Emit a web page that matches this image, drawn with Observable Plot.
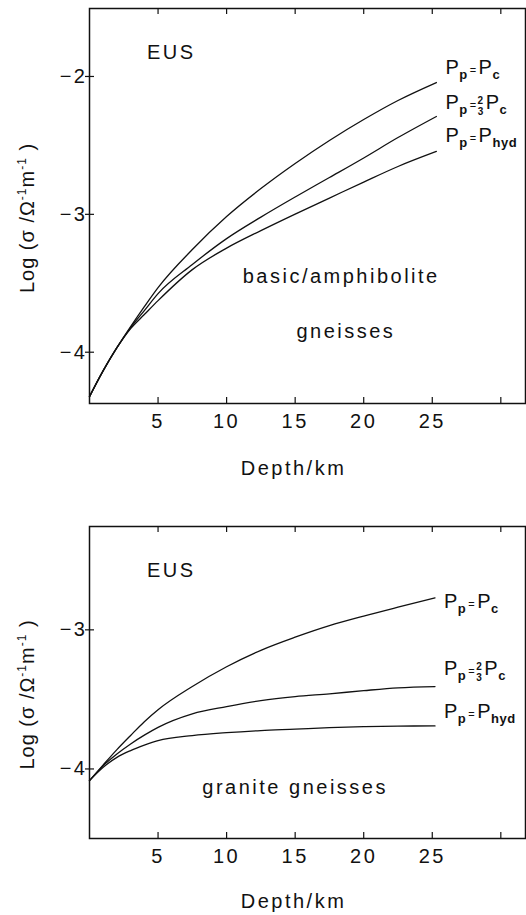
<!DOCTYPE html>
<html>
<head>
<meta charset="utf-8">
<script src="https://cdn.jsdelivr.net/npm/d3@7"></script>
<script src="https://cdn.jsdelivr.net/npm/@observablehq/plot@0.6"></script>
<style>
  html, body { margin: 0; padding: 0; background: #fff; }
  #chart { width: 526px; }
  #chart svg { display: block; }
</style>
</head>
<body>
<div id="chart"></div>
<script>
// ---------- data ----------
const xTickValues = [5, 10, 15, 20, 25, 30];
const xTickLabels = [5, 10, 15, 20, 25];
const basicYTicks = [-2, -3, -4];
const graniteYTicks = [-3, -4];

const seriesNames = ["Pp=Pc", "Pp=2/3Pc", "Pp=Phyd"];

// upper panel: basic/amphibolite gneisses
const depthBasic = [0, 1, 2, 3, 4, 5, 7.5, 10, 12.5, 15, 17.5, 20, 22.5, 25.3];
const basicPc    = [-4.322, -4.134, -3.967, -3.814, -3.669, -3.531, -3.255, -3.016, -2.813, -2.631, -2.464, -2.312, -2.174, -2.044];
const basic23    = [-4.322, -4.134, -3.967, -3.821, -3.698, -3.575, -3.364, -3.176, -3.020, -2.874, -2.733, -2.591, -2.443, -2.290];
const basicHyd   = [-4.322, -4.134, -3.967, -3.829, -3.727, -3.626, -3.401, -3.245, -3.118, -2.998, -2.882, -2.766, -2.653, -2.544];
const basicLabelY = [-1.935, -2.187, -2.428];

// lower panel: granite gneisses
const depthGranite = [0, 1, 2, 3, 4, 5, 7.5, 10, 12.5, 15, 17.5, 20, 22.5, 25.2];
const granitePc    = [-4.084, -3.971, -3.861, -3.759, -3.660, -3.574, -3.407, -3.265, -3.147, -3.053, -2.970, -2.901, -2.837, -2.770];
const granite23    = [-4.084, -3.976, -3.892, -3.820, -3.757, -3.701, -3.604, -3.552, -3.509, -3.480, -3.460, -3.437, -3.417, -3.408];
const graniteHyd   = [-4.084, -3.988, -3.917, -3.868, -3.829, -3.796, -3.760, -3.739, -3.724, -3.714, -3.703, -3.696, -3.692, -3.691];
const graniteLabelY = [-2.80, -3.28, -3.59];

// annotations
const basicNotes = ["EUS", "basic/amphibolite", "gneisses"];
const basicNoteX = [5.96, 18.36, 18.7];
const basicNoteY = [-1.826, -3.448, -3.852];
const graniteNotes = ["EUS", "granite gneisses"];
const graniteNoteX = [5.96, 15.0];
const graniteNoteY = [-2.573, -4.135];

const xLabel = "Depth/km";
const yLabel = "Log (σ /Ω-1m-1 )";

// ---------- rich text (sub/superscripts) ----------
const STY = {
  big: {size: 20, shift: 0},
  sub: {size: 13, shift: 5, weight: "bold"},
  eq:  {size: 11, shift: 0, dx: 2},
  num: {size: 10, shift: -5, weight: "bold", dx: 1},
  den: {size: 10, shift: 6, weight: "bold", dx: -6},
  big2:{size: 20, shift: 0, dx: 2},
  sup: {size: 12, shift: -8}
};
const RICH = {
  "Pp=Pc":    {ls: "0.5px", segs: [["P","big"],["p","sub"],["=","eq"],["P","big2"],["c","sub"]]},
  "Pp=2/3Pc": {ls: "0.5px", segs: [["P","big"],["p","sub"],["=","eq"],["2","num"],["3","den"],["P","big2"],["c","sub"]]},
  "Pp=Phyd":  {ls: "0.5px", segs: [["P","big"],["p","sub"],["=","eq"],["P","big2"],["hyd","sub"]]},
  [yLabel]:   {ls: "1px", segs: [["Log (σ /Ω","big"],["-1","sup"],["m","big"],["-1","sup"],[" )","big"]]}
};
function richify(svg) {
  svg.querySelectorAll("text").forEach(t => {
    const r = RICH[t.textContent];
    if (!r) return;
    t.textContent = "";
    t.style.letterSpacing = r.ls;
    let prev = 0;
    for (const [str, kind] of r.segs) {
      const st = STY[kind];
      const ts = document.createElementNS("http://www.w3.org/2000/svg", "tspan");
      ts.textContent = str;
      ts.setAttribute("font-size", st.size);
      if (st.weight) ts.setAttribute("font-weight", st.weight);
      const dy = st.shift - prev; prev = st.shift;
      if (dy) ts.setAttribute("dy", dy);
      if (st.dx) ts.setAttribute("dx", st.dx);
      t.appendChild(ts);
    }
  });
}

// ---------- panel ----------
const W = 526, ML = 89, MR = 1;
const INK = "#111";
function panel({height, marginTop, marginBottom, yDomain, yTicks, depth, values, labelY, notes, noteX, noteY, xLabelDy}) {
  const rows = values.flatMap((vals, k) => vals.map((v, i) => ({x: depth[i], y: v, name: seriesNames[k]})));
  const labels = seriesNames.map((n, k) => ({name: n, x: depth[depth.length - 1], y: labelY[k]}));
  const noteRows = notes.map((t, i) => ({t, x: noteX[i], y: noteY[i]}));
  const fh = height - marginTop - marginBottom;
  const fw = W - ML - MR;
  const svg = Plot.plot({
    width: W, height, marginLeft: ML, marginRight: MR, marginTop, marginBottom,
    style: {fontFamily: "'Liberation Sans', Arial, Helvetica, sans-serif", fontSize: "20px", color: INK, background: "#fff", letterSpacing: "2.5px"},
    x: {domain: [0, 31.8]},
    y: {domain: yDomain},
    marks: [
      Plot.frame({stroke: INK, strokeWidth: 1.5}),
      Plot.tickX(xTickValues, {x: d => d, insetTop: fh - 6, stroke: INK, strokeWidth: 1.2}),
      Plot.tickX(xTickValues, {x: d => d, insetBottom: fh - 6, stroke: INK, strokeWidth: 1.2}),
      Plot.tickY(yTicks, {y: d => d, insetRight: fw - 9, dx: -4, stroke: INK, strokeWidth: 1.2}),
      Plot.axisX(xTickLabels, {tickSize: 0, tickPadding: 10, label: null, fontSize: 20, tickFormat: d3.format("d")}),
      Plot.axisY(yTicks, {tickSize: 0, tickPadding: 2, label: null, fontSize: 20, tickFormat: d3.format("d")}),
      Plot.text([xLabel], {text: d => d, frameAnchor: "bottom", dy: xLabelDy, dx: -14, lineAnchor: "middle", fontSize: 20, fill: INK}),
      Plot.text([yLabel], {text: d => d, frameAnchor: "left", textAnchor: "middle", rotate: -90, dx: -62, dy: 12, lineAnchor: "middle", fontSize: 20, fill: INK}),
      Plot.line(rows, {x: "x", y: "y", z: "name", curve: "monotone-x", stroke: INK, strokeWidth: 1.3}),
      Plot.text(labels, {x: "x", y: "y", text: "name", textAnchor: "start", lineAnchor: "middle", dx: 9, fontSize: 20, fill: INK}),
      Plot.text(noteRows, {x: "x", y: "y", text: "t", lineAnchor: "middle", fontSize: 20, fill: INK})
    ]
  });
  richify(svg);
  return svg;
}

const root = document.getElementById("chart");
root.appendChild(panel({
  height: 480, marginTop: 8, marginBottom: 77,
  yDomain: [-4.372, -1.507], yTicks: basicYTicks,
  depth: depthBasic, values: [basicPc, basic23, basicHyd], labelY: basicLabelY,
  notes: basicNotes, noteX: basicNoteX, noteY: basicNoteY, xLabelDy: 65
}));
root.appendChild(panel({
  height: 435, marginTop: 46, marginBottom: 77,
  yDomain: [-4.50, -2.257], yTicks: graniteYTicks,
  depth: depthGranite, values: [granitePc, granite23, graniteHyd], labelY: graniteLabelY,
  notes: graniteNotes, noteX: graniteNoteX, noteY: graniteNoteY, xLabelDy: 63
}));
</script>
</body>
</html>
